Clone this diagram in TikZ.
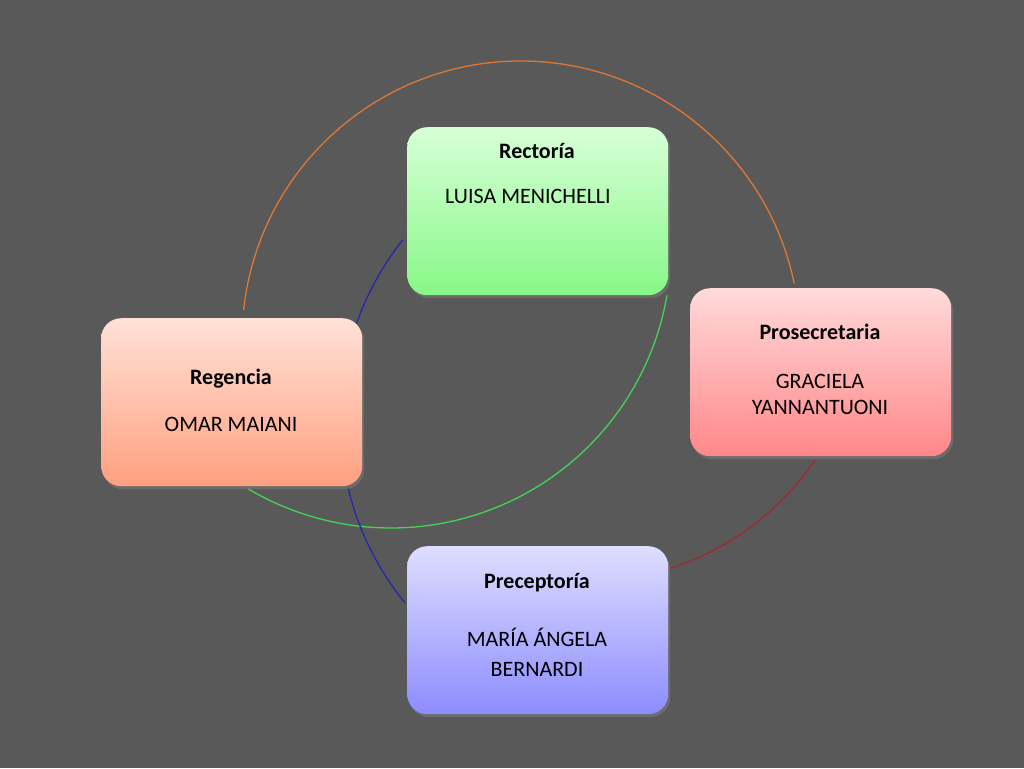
\documentclass[tikz,border=0pt]{standalone}
\usepackage{fontspec}
\setmainfont{Carlito}
\usetikzlibrary{shadows}
\definecolor{bgGray}{RGB}{89,89,89}
\definecolor{arcOrange}{RGB}{222,120,50}
\definecolor{arcGreen}{RGB}{70,210,90}
\definecolor{arcRed}{RGB}{160,40,50}
\definecolor{arcBlue}{RGB}{40,40,170}
\tikzset{
  box/.style={rounded corners=20pt, minimum width=261pt, minimum height=168pt,
    align=center, anchor=north west, inner sep=0pt,
    drop shadow={shadow xshift=2pt, shadow yshift=-3pt, opacity=0.5}},
  boxtitle/.style={font=\fontsize{22}{26}\selectfont\bfseries},
  boxname/.style={font=\fontsize{22}{26}\selectfont},
  arcline/.style={line width=1.3pt}
}
\begin{document}
\begin{tikzpicture}[x=1pt,y=-1pt]
    \useasboundingbox[fill=bgGray] (0,0) rectangle (1024,768);
    % Arc centres
    \coordinate (cOrange) at (521,340);
    \coordinate (cGreen) at (391,248);
    \coordinate (cRed) at (584,302);
    \coordinate (cBlue) at (630,420);
    % Arcs
    \draw [arcline, arcOrange] (cOrange) ++(186.2:279) arc[start angle=186.2, end angle=348.3, radius=279];
    \draw [arcline, arcGreen] (cGreen) ++(9.7:280) arc[start angle=9.7, end angle=120.6, radius=280];
    \draw [arcline, arcRed] (cRed) ++(34.4:280) arc[start angle=34.4, end angle=72.1, radius=280];
    \draw [arcline, arcBlue] (cBlue) ++(218.4:290) arc[start angle=218.4, end angle=198.1, radius=290];
    \draw [arcline, arcBlue] (cBlue) ++(166.6:290) arc[start angle=166.6, end angle=140.9, radius=290];
    % Boxes
    \node (rectoria) [box, top color={rgb,255:red,215;green,255;blue,215}, bottom color={rgb,255:red,135;green,248;blue,135}] at (407,127) {};
    \node (prosec) [box, top color={rgb,255:red,255;green,218;blue,218}, bottom color={rgb,255:red,255;green,135;blue,138}] at (690,288) {};
    \node (regencia) [box, top color={rgb,255:red,255;green,225;blue,215}, bottom color={rgb,255:red,255;green,160;blue,128}] at (101,318) {};
    \node (precep) [box, top color={rgb,255:red,222;green,222;blue,255}, bottom color={rgb,255:red,140;green,140;blue,255}] at (407,546) {};
    % Texts
    \node (rectoriaT) [boxtitle] at (537,151) {Rectoría};
    \node (rectoriaN) [boxname] at (528,196) {LUISA MENICHELLI};
    \node (prosecT) [boxtitle] at (820,332) {Prosecretaria};
    \node (prosecN) [boxname, align=center] at (820,394) {GRACIELA\\YANNANTUONI};
    \node (regenciaT) [boxtitle] at (231,379) {Regencia};
    \node (regenciaN) [boxname] at (231,424) {OMAR MAIANI};
    \node (precepT) [boxtitle] at (537,583) {Preceptoría};
    \node (precepN) [boxname, align=center] at (537,652) {MARÍA ÁNGELA\\[4pt]BERNARDI};
\end{tikzpicture}
\end{document}
